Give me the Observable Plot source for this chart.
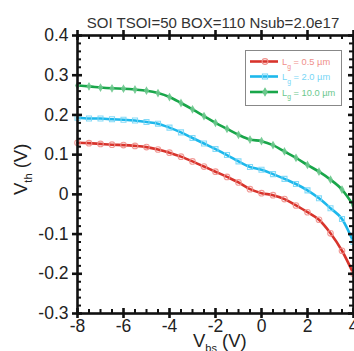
<!DOCTYPE html>
<html><head><meta charset="utf-8">
<script src="https://cdn.jsdelivr.net/npm/d3@7"></script>
<script src="https://cdn.jsdelivr.net/npm/@observablehq/plot@0.6"></script>
<style>
html,body{margin:0;padding:0;background:#fff;}
#chart{position:relative;width:354px;height:351px;overflow:hidden;}
</style></head><body><div id="chart"></div>
<script>
const title = "SOI TSOI=50 BOX=110 Nsub=2.0e17";
const vbs = [-8,-7.5,-7,-6.5,-6,-5.5,-5,-4.5,-4,-3.5,-3,-2.5,-2,-1.5,-1,-0.5,0,0.5,1,1.5,2,2.5,3,3.5,4];
const seriesLabels = ["0.5", "2.0", "10.0"];
const vthLg05 = [0.130,0.129,0.127,0.125,0.124,0.122,0.119,0.113,0.105,0.095,0.083,0.070,0.057,0.044,0.030,0.013,0.003,-0.002,-0.012,-0.028,-0.045,-0.064,-0.098,-0.142,-0.200];
const vthLg20 = [0.193,0.191,0.191,0.189,0.188,0.186,0.182,0.178,0.168,0.156,0.142,0.128,0.114,0.099,0.083,0.069,0.062,0.051,0.039,0.026,0.010,-0.010,-0.035,-0.062,-0.120];
const vthLg100 = [0.274,0.272,0.269,0.267,0.266,0.264,0.261,0.255,0.245,0.230,0.214,0.197,0.180,0.165,0.150,0.138,0.134,0.124,0.108,0.092,0.074,0.057,0.037,0.012,-0.028];
const lineColors = ["#d8342c", "#1db8ec", "#19a64a"];
const markerColors = ["#ef8f8b", "#78d6f6", "#6cc88d"];
const symbols = ["circle", "square", "diamond"];
const xTicks = [-8,-6,-4,-2,0,2,4];
const yTicks = [-0.3,-0.2,-0.1,0,0.1,0.2,0.3,0.4];
const xMinor = [-7.5,-7,-6.5,-5.5,-5,-4.5,-3.5,-3,-2.5,-1.5,-1,-0.5,0.5,1,1.5,2.5,3,3.5];
const yMinor = d3.range(-30, 41, 2).filter(v => v % 10 !== 0).map(v => v / 100);

const W = 354, H = 351, mL = 77, mR = 1, mT = 35, mB = 38;
const fw = W - mL - mR, fh = H - mT - mB;
const seriesVals = [vthLg05, vthLg20, vthLg100];
const series = seriesVals.map((vals, i) => vbs.map((x, j) => ({x, y: vals[j], s: i})));

const marks = [];
series.forEach((d, i) => {
  marks.push(Plot.line(d, {x: "x", y: "y", stroke: lineColors[i], strokeWidth: 2.6, curve: "monotone-x"}));
});
series.forEach((d, i) => {
  marks.push(Plot.dot(d, {x: "x", y: "y", symbol: symbols[i], r: i === 2 ? 2 : 2.8,
    stroke: markerColors[i], fill: i === 2 ? markerColors[i] : "none", strokeWidth: 1.1, opacity: 0.9}));
});
const tk = "#111";
marks.push(
  Plot.frame({stroke: tk, strokeWidth: 2.6}),
  Plot.tickX(xTicks, {x: d => d, insetTop: fh - 5, insetBottom: -5, stroke: tk, strokeWidth: 2.6}),
  Plot.tickX(xTicks, {x: d => d, insetTop: -5, insetBottom: fh - 5, stroke: tk, strokeWidth: 2.6}),
  Plot.tickX(xMinor, {x: d => d, insetTop: fh - 4, insetBottom: 0, stroke: tk, strokeWidth: 2}),
  Plot.tickX(xMinor, {x: d => d, insetTop: 0, insetBottom: fh - 4, stroke: tk, strokeWidth: 2}),
  Plot.tickY(yTicks, {y: d => d, insetLeft: -5, insetRight: fw - 5, stroke: tk, strokeWidth: 2.6}),
  Plot.tickY(yTicks, {y: d => d, insetLeft: fw - 5, insetRight: -5, stroke: tk, strokeWidth: 2.6}),
  Plot.tickY(yMinor, {y: d => d, insetLeft: 0, insetRight: fw - 4, stroke: tk, strokeWidth: 2}),
  Plot.tickY(yMinor, {y: d => d, insetLeft: fw - 4, insetRight: 0, stroke: tk, strokeWidth: 2}),
  Plot.axisX({ticks: xTicks, tickSize: 0, tickPadding: 6, fontSize: 17.5, label: null, fill: "#222", tickFormat: d => String(d)}),
  Plot.axisY({ticks: yTicks, tickSize: 0, tickPadding: 9, fontSize: 17.5, label: null, fill: "#222", tickFormat: d => d === 0 ? "0" : String(d)}),
  Plot.text([title], {text: d => d, frameAnchor: "top", dy: -18.5, dx: -2.5, fontSize: 15, fill: "#333"})
);

const plot = Plot.plot({
  width: W, height: H,
  marginLeft: mL, marginRight: mR, marginTop: mT, marginBottom: mB,
  x: {domain: [-8, 4]},
  y: {domain: [-0.3, 0.4]},
  style: {fontFamily: "'Liberation Sans', Arial, sans-serif", background: "#fff", overflow: "visible"},
  marks
});
document.getElementById("chart").appendChild(plot);

// axis labels with subscripts
const svg = d3.select(plot);
const ff = "'Liberation Sans', Arial, sans-serif";
const xl = svg.append("text").attr("x", 193).attr("y", 347).attr("text-anchor", "start")
  .attr("font-size", 18.5).attr("fill", "#222").attr("font-family", ff);
xl.append("tspan").text("V");
xl.append("tspan").attr("font-size", 11).attr("dy", 5).text("bs");
xl.append("tspan").attr("dy", -5).text(" (V)");
const yl = svg.append("text").attr("transform", "translate(27,195) rotate(-90)").attr("text-anchor", "start")
  .attr("font-size", 18.5).attr("fill", "#222").attr("font-family", ff);
yl.append("tspan").text("V");
yl.append("tspan").attr("font-size", 11).attr("dy", 5).text("th");
yl.append("tspan").attr("dy", -5).text(" (V)");

// legend
const lg = svg.append("g").attr("font-family", ff).attr("text-anchor", "start");
lg.append("rect").attr("x", 245.5).attr("y", 50.5).attr("width", 96).attr("height", 55)
  .attr("fill", "#fff").attr("stroke", "#888").attr("stroke-width", 1);
const rowY = [61.5, 76.5, 92];
const sym = [d3.symbolCircle, d3.symbolSquare, d3.symbolDiamond];
seriesLabels.forEach((lab, i) => {
  const y = rowY[i];
  lg.append("line").attr("x1", 250).attr("x2", 278).attr("y1", y).attr("y2", y)
    .attr("stroke", lineColors[i]).attr("stroke-width", 2.6);
  lg.append("path").attr("d", d3.symbol(sym[i], i === 2 ? 16 : 26)()).attr("transform", `translate(265,${y})`)
    .attr("fill", i === 2 ? markerColors[i] : "none").attr("stroke", markerColors[i]).attr("stroke-width", 1.1);
  const t = lg.append("text").attr("x", 282).attr("y", y + 3.5).attr("font-size", 9.3).attr("fill", markerColors[i]);
  t.append("tspan").text("L");
  t.append("tspan").attr("font-size", 6.8).attr("dy", 3.5).text("g");
  t.append("tspan").attr("dy", -3.5).text(" = " + lab + " \u00b5m");
});
</script></body></html>
